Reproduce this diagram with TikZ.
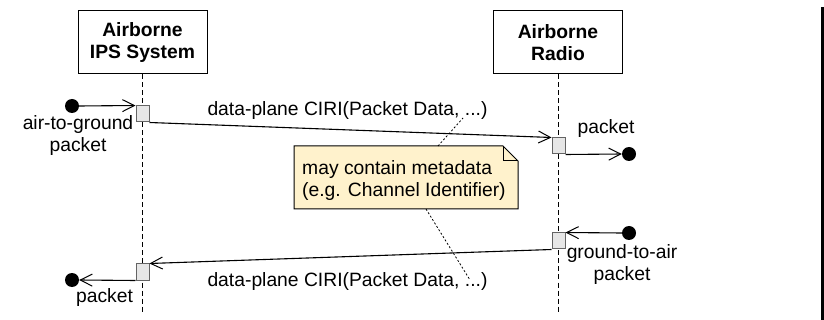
\documentclass[tikz,border=0pt]{standalone}
\usepackage{fontspec}
\setmainfont{Liberation Sans}
\usetikzlibrary{arrows.meta}
\definecolor{notefill}{RGB}{255,242,204}
\definecolor{actfill}{RGB}{230,230,230}
\definecolor{actdraw}{RGB}{100,100,100}
\begin{document}
\begin{tikzpicture}[x=1pt,y=-1pt,
  font=\fontsize{19.3}{22}\selectfont,
  actor/.style={draw=black, line width=1pt, minimum width=129pt, minimum height=63pt, align=center, font=\fontsize{19.3}{22}\selectfont\bfseries, inner sep=0},
  life/.style={dash pattern=on 5pt off 3pt, line width=1pt},
  act/.style={draw=actdraw, fill=actfill, line width=1pt, minimum width=13pt, minimum height=16pt, inner sep=0},
  dot/.style={circle, fill=black, minimum size=14pt, inner sep=0},
  msg/.style={line width=1.1pt, -{Straight Barb[length=12pt,width=12pt,line width=1pt]}},
  lbl/.style={inner sep=0, anchor=base, align=center},
  notelink/.style={dash pattern=on 2pt off 2pt, line width=0.8pt},
  notebox/.style={draw=black, fill=notefill, line width=1pt}
]
\useasboundingbox (0,0) rectangle (824,320);
% lifeline heads
\node[actor] (ips) at (142.5,42.5) {Airborne\\IPS System};
\node[actor] (radio) at (558,42.5) {Airborne\\Radio};
\coordinate (ipsend) at (142.5,313);
\coordinate (radend) at (558,313);
\draw[life] (ips.south) -- (ipsend);
\draw[life] (radio.south) -- (radend);
% activations
\node[act] (a1) at (142.5,114) {};
\node[act] (a2) at (558.5,146) {};
\node[act] (a3) at (558.5,241) {};
\node[act] (a4) at (142.5,272) {};
% end points
\node[dot] (d1) at (72,106) {};
\node[dot] (d2) at (629,154) {};
\node[dot] (d3) at (629,233) {};
\node[dot] (d4) at (72,280) {};
% messages
\draw[msg] (d1.east) -- (a1.north west);
\draw[msg] (a1.south east) -- (a2.north west);
\draw[msg] (a2.south east) -- (d2.west);
\draw[msg] (d3.west) -- (a3.north east);
\draw[msg] (a3.south west) -- (a4.north east);
\draw[msg] (a4.south west) -- (d4.east);
% labels (base = baseline of last line)
\node[lbl] (m1) at (347.5,116) {data-plane CIRI(Packet Data, ...)};
\node[lbl] (m2) at (347.5,286) {data-plane CIRI(Packet Data, ...)};
\node[lbl] (l1) at (78,152) {air-to-ground\\packet};
\node[lbl] (l2) at (606,134) {packet};
\node[lbl] (l3) at (622,280) {ground-to-air\\packet};
\node[lbl] (l4) at (104.5,302) {packet};
% note
\draw[notebox] (294,146) -- (503,146) -- (518,161) -- (518,209) -- (294,209) -- cycle;
\draw[line width=1pt] (503,146) -- (503,161) -- (518,161);
\node[inner sep=0, anchor=base west, align=left] (note) at (302,197) {may contain metadata\\(e.g. Channel Identifier)};
\coordinate (ntop) at (438,146);
\coordinate (nbot) at (426,209);
\coordinate (m1p) at (463,118);
\coordinate (m2p) at (470,280);
\draw[notelink] (ntop) -- (m1p);
\draw[notelink] (nbot) -- (m2p);
% right border
\coordinate (bt) at (822.7,7);
\coordinate (bb) at (822.7,320);
\draw[line width=2.5pt] (bt) -- (bb);
\end{tikzpicture}
\end{document}
